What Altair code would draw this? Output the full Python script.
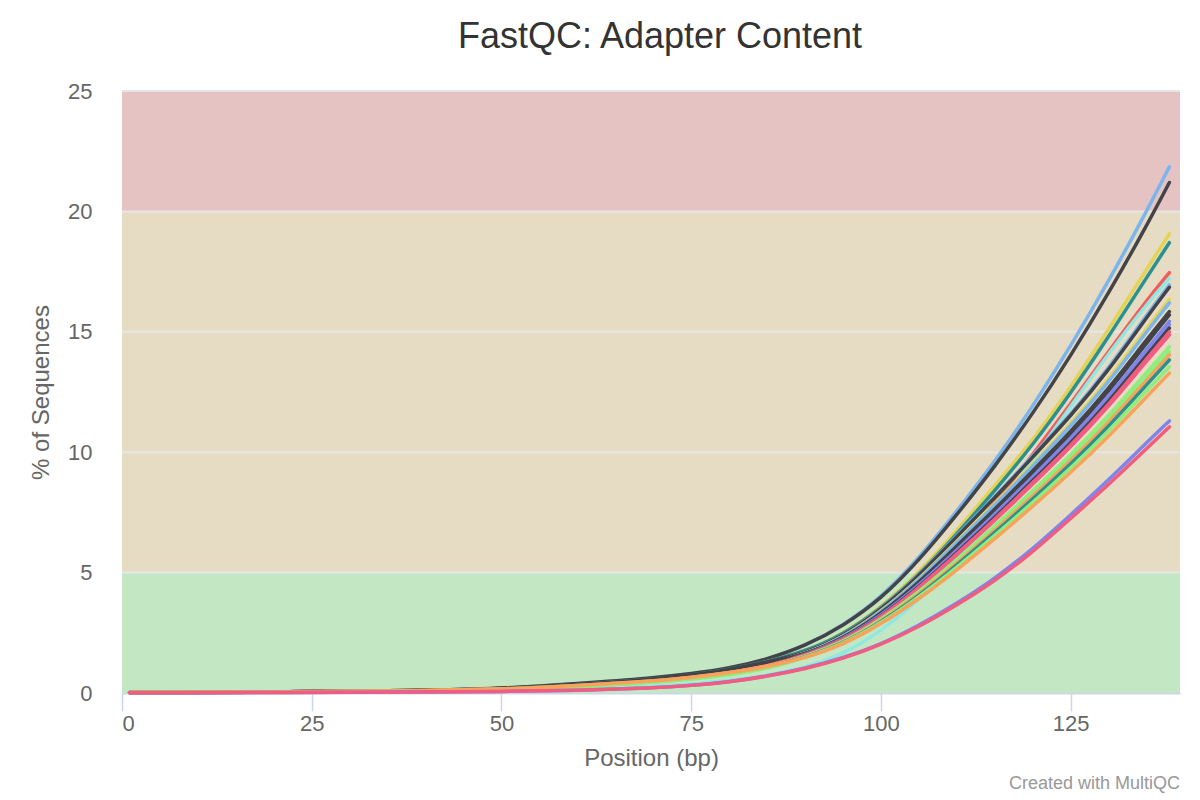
import altair as alt
import pandas as pd

# Positions (bp) at which values were read
positions = [1, 20, 40, 50, 60, 70, 75, 80, 85, 90, 95, 100, 105, 110, 115, 120, 125, 130, 135, 138]

# % of sequences with adapter, one list per sample
s01 = [0.02, 0.04, 0.10, 0.18, 0.38, 0.60, 0.78, 1.00, 1.38, 1.95, 2.80, 3.95, 5.60, 7.55, 9.60, 11.90, 14.40, 17.10, 20.00, 21.85]
s02 = [0.02, 0.04, 0.10, 0.19, 0.39, 0.62, 0.80, 1.02, 1.40, 1.95, 2.78, 3.90, 5.50, 7.40, 9.40, 11.60, 14.00, 16.60, 19.40, 21.20]
s03 = [0.02, 0.04, 0.09, 0.16, 0.32, 0.55, 0.72, 0.95, 1.28, 1.72, 2.45, 3.55, 5.00, 6.75, 8.60, 10.50, 12.70, 15.10, 17.60, 19.07]
s04 = [0.02, 0.04, 0.09, 0.17, 0.34, 0.57, 0.74, 0.97, 1.30, 1.72, 2.42, 3.50, 4.90, 6.60, 8.40, 10.30, 12.45, 14.80, 17.25, 18.70]
s05 = [0.02, 0.03, 0.08, 0.14, 0.27, 0.47, 0.62, 0.82, 1.10, 1.50, 2.15, 3.10, 4.40, 6.00, 7.90, 9.90, 12.00, 14.20, 16.30, 17.46]
s06 = [0.01, 0.02, 0.05, 0.08, 0.15, 0.27, 0.36, 0.52, 0.72, 1.05, 1.60, 2.55, 3.85, 5.50, 7.50, 9.70, 11.90, 14.10, 16.15, 17.22]
s07 = [0.02, 0.04, 0.09, 0.16, 0.30, 0.52, 0.69, 0.91, 1.22, 1.66, 2.36, 3.47, 4.88, 6.54, 8.15, 9.86, 11.57, 13.48, 15.70, 16.95]
s08 = [0.02, 0.04, 0.10, 0.18, 0.34, 0.56, 0.74, 0.96, 1.28, 1.65, 2.35, 3.45, 4.85, 6.50, 8.10, 9.80, 11.50, 13.40, 15.60, 16.85]
s09 = [0.02, 0.04, 0.09, 0.16, 0.31, 0.52, 0.68, 0.89, 1.19, 1.62, 2.30, 3.37, 4.72, 6.30, 7.86, 9.51, 11.17, 13.02, 15.14, 16.35]
s10 = [0.02, 0.04, 0.09, 0.15, 0.29, 0.50, 0.66, 0.87, 1.17, 1.61, 2.29, 3.34, 4.68, 6.25, 7.79, 9.43, 11.08, 12.90, 15.01, 16.20]
s11 = [0.02, 0.04, 0.10, 0.17, 0.33, 0.55, 0.72, 0.94, 1.24, 1.59, 2.25, 3.28, 4.58, 6.11, 7.62, 9.23, 10.84, 12.63, 14.68, 15.84]
s12 = [0.02, 0.04, 0.09, 0.17, 0.32, 0.54, 0.71, 0.92, 1.22, 1.59, 2.24, 3.26, 4.55, 6.05, 7.56, 9.14, 10.75, 12.52, 14.54, 15.70]
s13 = [0.02, 0.03, 0.08, 0.14, 0.27, 0.47, 0.62, 0.83, 1.12, 1.57, 2.21, 3.21, 4.47, 5.94, 7.42, 8.98, 10.56, 12.30, 14.28, 15.43]
s14 = [0.02, 0.03, 0.08, 0.14, 0.27, 0.46, 0.61, 0.82, 1.11, 1.56, 2.20, 3.19, 4.44, 5.90, 7.37, 8.92, 10.49, 12.22, 14.18, 15.30]
s15 = [0.02, 0.04, 0.09, 0.16, 0.31, 0.52, 0.68, 0.89, 1.18, 1.55, 2.18, 3.16, 4.39, 5.83, 7.28, 8.82, 10.37, 12.08, 14.02, 15.15]
s16 = [0.02, 0.03, 0.08, 0.15, 0.28, 0.48, 0.63, 0.83, 1.11, 1.55, 2.17, 3.14, 4.36, 5.77, 7.22, 8.73, 10.28, 11.97, 13.88, 15.00]
s17 = [0.02, 0.03, 0.08, 0.14, 0.28, 0.47, 0.62, 0.82, 1.10, 1.54, 2.16, 3.12, 4.33, 5.73, 7.17, 8.67, 10.21, 11.89, 13.79, 14.87]
s18 = [0.02, 0.03, 0.08, 0.14, 0.27, 0.46, 0.61, 0.80, 1.07, 1.51, 2.11, 3.04, 4.19, 5.53, 6.93, 8.39, 9.88, 11.50, 13.32, 14.38]
s19 = [0.02, 0.03, 0.08, 0.14, 0.26, 0.45, 0.60, 0.79, 1.05, 1.50, 2.09, 3.00, 4.14, 5.45, 6.83, 8.26, 9.74, 11.34, 13.13, 14.17]
s20 = [0.02, 0.04, 0.09, 0.16, 0.30, 0.50, 0.65, 0.84, 1.10, 1.49, 2.07, 2.98, 4.10, 5.39, 6.76, 8.18, 9.64, 11.23, 12.99, 14.04]
s21 = [0.02, 0.03, 0.08, 0.15, 0.28, 0.47, 0.61, 0.80, 1.05, 1.48, 2.05, 2.94, 4.04, 5.31, 6.66, 8.06, 9.50, 11.06, 12.80, 13.83]
s22 = [0.02, 0.03, 0.07, 0.13, 0.25, 0.43, 0.57, 0.75, 1.00, 1.47, 2.03, 2.90, 3.98, 5.21, 6.54, 7.91, 9.34, 10.87, 12.56, 13.55]
s23 = [0.02, 0.04, 0.09, 0.16, 0.30, 0.50, 0.64, 0.83, 1.08, 1.45, 2.00, 2.85, 3.90, 5.10, 6.40, 7.75, 9.15, 10.65, 12.30, 13.28]
s24 = [0.01, 0.02, 0.04, 0.06, 0.11, 0.21, 0.31, 0.46, 0.70, 1.02, 1.45, 2.02, 2.80, 3.72, 4.75, 5.98, 7.40, 8.85, 10.40, 11.30]
s25 = [0.01, 0.02, 0.04, 0.06, 0.11, 0.21, 0.31, 0.45, 0.69, 1.00, 1.42, 2.00, 2.75, 3.65, 4.65, 5.85, 7.25, 8.65, 10.15, 11.05]

sample_names = [f"Sample_{i:02d}" for i in range(1, 26)]
sample_values = [s01, s02, s03, s04, s05, s06, s07, s08, s09, s10, s11, s12, s13,
                 s14, s15, s16, s17, s18, s19, s20, s21, s22, s23, s24, s25]
sample_colors = ["#7cb5ec", "#434348", "#e4d354", "#2b908f", "#f45b5b", "#91e8e1",
                 "#7cb5ec", "#434348", "#e4d354", "#7cb5ec", "#434348", "#434348",
                 "#8085e9", "#8085e9", "#434348", "#f15c80", "#f15c80", "#90ed7d",
                 "#90ed7d", "#f7a35c", "#2b908f", "#90ed7d", "#f7a35c", "#8085e9",
                 "#f15c80"]

band_start = [0, 5, 20]
band_end = [5, 20, 25]
band_colors = ["#c3e6c3", "#e6dcc3", "#e6c3c3"]
grid_values = [5, 10, 15, 20, 25]
x_ticks = [0, 25, 50, 75, 100, 125]
y_ticks = [0, 5, 10, 15, 20, 25]

W, H = 1058, 602
FONT = "Liberation Sans"

rows = []
for name, vals in zip(sample_names, sample_values):
    for p, v in zip(positions, vals):
        rows.append({"sample": name, "position": p, "pct": v})
df = pd.DataFrame(rows)

bands = pd.DataFrame({"y0": band_start, "y1": band_end, "c": band_colors})
grid = pd.DataFrame({"g": grid_values})

xscale = alt.Scale(domain=[0, 139.4], nice=False, zero=False)
yscale = alt.Scale(domain=[0, 25], nice=False)

band_layer = alt.Chart(bands).mark_rect().encode(
    x=alt.value(0), x2=alt.value(W),
    y=alt.Y("y0:Q", scale=yscale),
    y2="y1:Q",
    color=alt.Color("c:N", scale=None),
)

grid_layer = alt.Chart(grid).mark_rule(color="#e6e6e6", strokeWidth=2).encode(
    x=alt.value(0), x2=alt.value(W),
    y=alt.Y("g:Q", scale=yscale),
)

lines = alt.Chart(df).mark_line(strokeWidth=3.5, interpolate="basis",
                                strokeCap="round", strokeJoin="round").encode(
    x=alt.X("position:Q", scale=xscale,
            axis=alt.Axis(values=x_ticks, title="Position (bp)", grid=False,
                          tickSize=18, tickColor="#ccd6eb", tickWidth=1.5,
                          domainColor="#ccd6eb", domainWidth=2,
                          labelFontSize=22, labelColor="#666666", labelFont=FONT,
                          labelPadding=2, titleFontSize=24, titleColor="#666666",
                          titleFont=FONT, titleFontWeight="normal", titlePadding=12)),
    y=alt.Y("pct:Q", scale=yscale,
            axis=alt.Axis(values=y_ticks, title="% of Sequences", grid=False,
                          ticks=False, domain=False, labelFontSize=22,
                          labelColor="#666666", labelFont=FONT, labelPadding=30,
                          titleFontSize=24, titleColor="#666666", titleFont=FONT,
                          titleFontWeight="normal", titlePadding=14)),
    color=alt.Color("sample:N", scale=alt.Scale(domain=sample_names, range=sample_colors),
                    legend=None),
)

credit = alt.Chart(pd.DataFrame({"t": ["Created with MultiQC"]})).mark_text(
    align="right", baseline="middle", fontSize=18, color="#999999", font=FONT
).encode(x=alt.value(W), y=alt.value(H + 91), text="t:N")

chart = alt.layer(band_layer, grid_layer, lines, credit).properties(
    width=W, height=H,
    title=alt.TitleParams("FastQC: Adapter Content", fontSize=36, color="#333333",
                          font=FONT, fontWeight="normal", anchor="middle",
                          offset=24, dx=9),
    autosize=alt.AutoSizeParams(type="none"),
    padding={"left": 114, "top": 83, "right": 12, "bottom": 110},
).configure_view(stroke=None)

chart.save("out.html", embed_options={"renderer": "svg", "actions": False})
